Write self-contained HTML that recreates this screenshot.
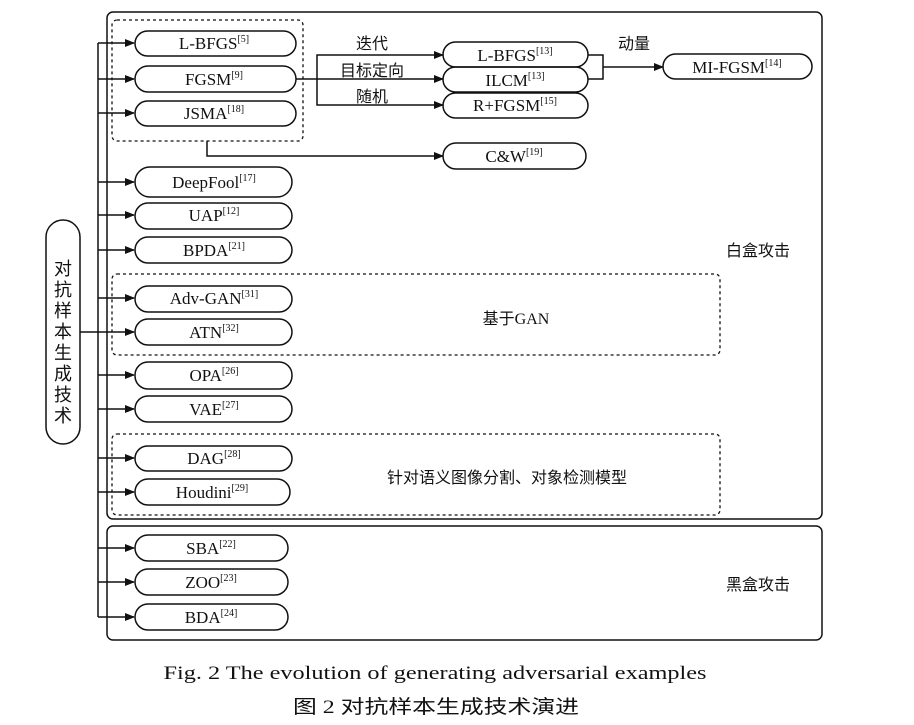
<!DOCTYPE html>
<html><head><meta charset="utf-8"><style>
html,body{margin:0;padding:0;background:#fff;}
svg{display:block;}
text{font-family:"Liberation Serif","Noto Serif CJK SC",serif;fill:#111;}
.cn{font-family:"Liberation Serif","Noto Sans CJK SC",sans-serif;}
</style></head><body>
<svg width="914" height="725" viewBox="0 0 914 725" xmlns="http://www.w3.org/2000/svg">
<defs><marker id="a" markerWidth="10" markerHeight="8" refX="9" refY="4" orient="auto" markerUnits="userSpaceOnUse"><path d="M0,0 L10,4 L0,8 z" fill="#111"/></marker></defs>
<g fill="none" stroke="#111" stroke-width="1.5">
<rect x="107" y="12" width="715" height="507" rx="6"/>
<rect x="107" y="526" width="715" height="114" rx="6"/>
<g stroke-dasharray="3,3" stroke-width="1.3">
<rect x="112" y="20" width="191" height="121" rx="5"/>
<rect x="112" y="274" width="608" height="81" rx="5"/>
<rect x="112" y="434" width="608" height="81" rx="5"/>
</g>
<rect x="46" y="220" width="34" height="224" rx="17"/>
<line x1="80" y1="332" x2="98" y2="332"/>
<line x1="98" y1="43" x2="98" y2="617"/>
<g marker-end="url(#a)">
<line x1="98" y1="43" x2="134" y2="43"/><line x1="98" y1="79" x2="134" y2="79"/><line x1="98" y1="113" x2="134" y2="113"/>
<line x1="98" y1="182" x2="134" y2="182"/><line x1="98" y1="215" x2="134" y2="215"/><line x1="98" y1="250" x2="134" y2="250"/>
<line x1="98" y1="298" x2="134" y2="298"/><line x1="98" y1="332" x2="134" y2="332"/>
<line x1="98" y1="375" x2="134" y2="375"/><line x1="98" y1="409" x2="134" y2="409"/>
<line x1="98" y1="458" x2="134" y2="458"/><line x1="98" y1="492" x2="134" y2="492"/>
<line x1="98" y1="548" x2="134" y2="548"/><line x1="98" y1="582" x2="134" y2="582"/><line x1="98" y1="617" x2="134" y2="617"/>
<line x1="296" y1="79" x2="443" y2="79"/>
<polyline points="317,79 317,55 443,55"/><polyline points="317,79 317,105 443,105"/>
<polyline points="207,141 207,156 443,156"/>
<line x1="603" y1="67" x2="663" y2="67"/>
</g>
<polyline points="588,55 603,55 603,79 588,79"/>
<rect x="135" y="31" width="161" height="25" rx="12.5"/>
<rect x="135" y="66" width="161" height="26" rx="13"/>
<rect x="135" y="101" width="161" height="25" rx="12.5"/>
<rect x="135" y="167" width="157" height="30" rx="15"/>
<rect x="135" y="203" width="157" height="26" rx="13"/>
<rect x="135" y="237" width="157" height="26" rx="13"/>
<rect x="135" y="286" width="157" height="26" rx="13"/>
<rect x="135" y="319" width="157" height="26" rx="13"/>
<rect x="135" y="362" width="157" height="27" rx="13"/>
<rect x="135" y="396" width="157" height="26" rx="13"/>
<rect x="135" y="446" width="157" height="25" rx="12.5"/>
<rect x="135" y="479" width="155" height="26" rx="13"/>
<rect x="135" y="535" width="153" height="26" rx="13"/>
<rect x="135" y="569" width="153" height="26" rx="13"/>
<rect x="135" y="604" width="153" height="26" rx="13"/>
<rect x="443" y="42" width="145" height="25" rx="12.5"/>
<rect x="443" y="67" width="145" height="25" rx="12.5"/>
<rect x="443" y="93" width="145" height="25" rx="12.5"/>
<rect x="443" y="143" width="143" height="26" rx="13"/>
<rect x="663" y="54" width="149" height="25" rx="12.5"/>
</g>
<g font-size="17" text-anchor="middle">
<text x="214" y="49">L-BFGS<tspan font-size="10" dy="-7">[5]</tspan></text>
<text x="214" y="85">FGSM<tspan font-size="10" dy="-7">[9]</tspan></text>
<text x="214" y="119">JSMA<tspan font-size="10" dy="-7">[18]</tspan></text>
<text x="214" y="188">DeepFool<tspan font-size="10" dy="-7">[17]</tspan></text>
<text x="214" y="221">UAP<tspan font-size="10" dy="-7">[12]</tspan></text>
<text x="214" y="256">BPDA<tspan font-size="10" dy="-7">[21]</tspan></text>
<text x="214" y="304">Adv-GAN<tspan font-size="10" dy="-7">[31]</tspan></text>
<text x="214" y="338">ATN<tspan font-size="10" dy="-7">[32]</tspan></text>
<text x="214" y="381">OPA<tspan font-size="10" dy="-7">[26]</tspan></text>
<text x="214" y="415">VAE<tspan font-size="10" dy="-7">[27]</tspan></text>
<text x="214" y="464">DAG<tspan font-size="10" dy="-7">[28]</tspan></text>
<text x="212" y="498">Houdini<tspan font-size="10" dy="-7">[29]</tspan></text>
<text x="211" y="554">SBA<tspan font-size="10" dy="-7">[22]</tspan></text>
<text x="211" y="588">ZOO<tspan font-size="10" dy="-7">[23]</tspan></text>
<text x="211" y="623">BDA<tspan font-size="10" dy="-7">[24]</tspan></text>
<text x="515" y="61">L-BFGS<tspan font-size="10" dy="-7">[13]</tspan></text>
<text x="515" y="86">ILCM<tspan font-size="10" dy="-7">[13]</tspan></text>
<text x="515" y="111">R+FGSM<tspan font-size="10" dy="-7">[15]</tspan></text>
<text x="514" y="162">C&amp;W<tspan font-size="10" dy="-7">[19]</tspan></text>
<text x="737" y="73">MI-FGSM<tspan font-size="10" dy="-7">[14]</tspan></text>
</g>
<g class="cn" font-size="16" text-anchor="middle">
<text class="cn" x="372" y="49">迭代</text>
<text class="cn" x="372" y="76">目标定向</text>
<text class="cn" x="372" y="102">随机</text>
<text class="cn" x="634" y="49">动量</text>
<text class="cn" x="758" y="256">白盒攻击</text>
<text class="cn" x="758" y="590">黑盒攻击</text>
<text class="cn" x="516" y="324">基于GAN</text>
<text class="cn" x="507" y="483">针对语义图像分割、对象检测模型</text>
</g>
<g class="cn" font-size="18" text-anchor="middle">
<text class="cn" x="63" y="275">对</text><text class="cn" x="63" y="296">抗</text><text class="cn" x="63" y="317">样</text><text class="cn" x="63" y="338">本</text>
<text class="cn" x="63" y="359">生</text><text class="cn" x="63" y="380">成</text><text class="cn" x="63" y="401">技</text><text class="cn" x="63" y="422">术</text>
</g>
<text x="435" y="679" font-size="19" text-anchor="middle" textLength="543" lengthAdjust="spacingAndGlyphs">Fig. 2    The evolution of generating adversarial examples</text>
<text x="436" y="713" font-size="19" text-anchor="middle" class="cn" textLength="286" lengthAdjust="spacingAndGlyphs">图 2    对抗样本生成技术演进</text>
</svg>
</body></html>
